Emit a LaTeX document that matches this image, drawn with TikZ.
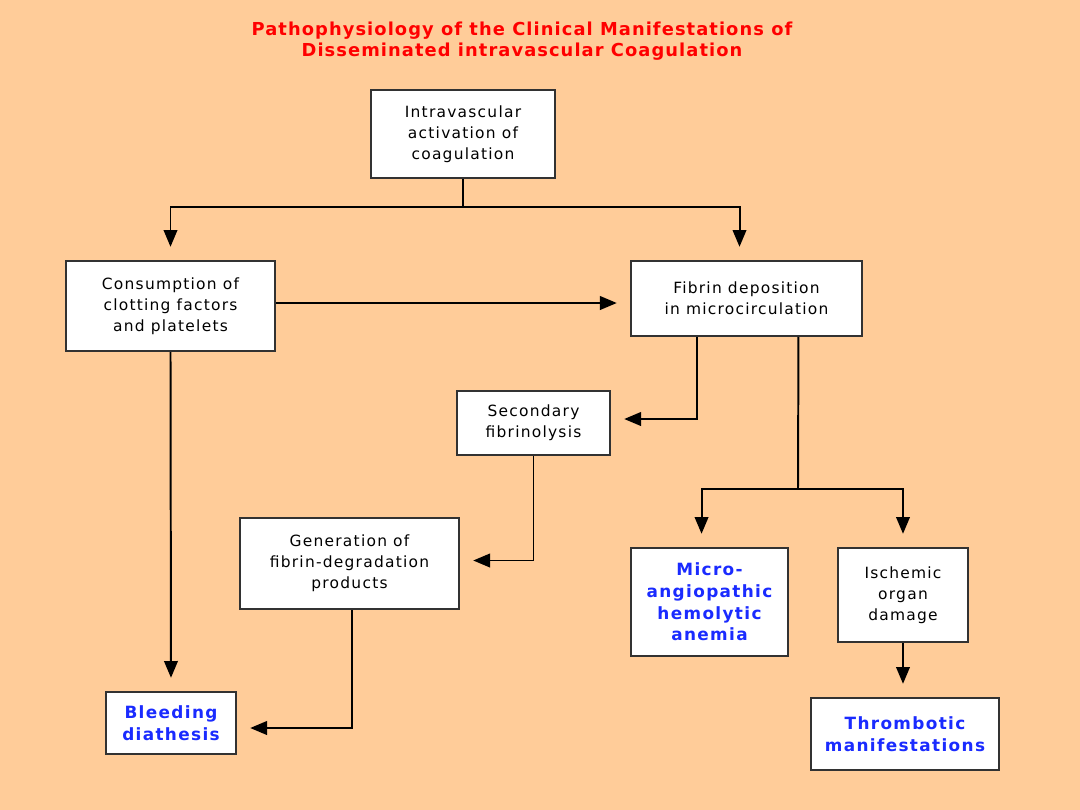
\documentclass[tikz,border=0pt]{standalone}
\usepackage{fontspec}
\setmainfont{DejaVu Sans}
\newfontfamily\boxfont{DejaVu Sans}[LetterSpace=8]
\newfontfamily\titlefont{DejaVu Sans}[LetterSpace=6]
\usetikzlibrary{arrows.meta,calc}
\definecolor{peachbg}{HTML}{FFCC99}
\definecolor{titlered}{HTML}{FF0000}
\definecolor{outblue}{HTML}{1A2BFF}
\definecolor{edgegray}{RGB}{50,50,50}
\tikzset{
  box/.style={rectangle, draw=edgegray, fill=white, line width=1.4pt, inner sep=0pt,
              align=center, font=\boxfont\fontsize{11}{15}\selectfont},
  outbox/.style={box, text=outblue, font=\boxfont\bfseries\fontsize{12}{15.5}\selectfont},
  arr/.style={-{Triangle[length=0.42cm, width=0.34cm]}, line width=1.4pt, draw=black,
              shorten >=0.33cm},
  link/.style={line width=1.4pt, draw=black},
}

\begin{document}
\begin{tikzpicture}[x=0.025cm, y=-0.025cm]
\fill[peachbg] (0,0) rectangle (1080,810);
\useasboundingbox (0,0) rectangle (1080,810);
% title
\node[font=\titlefont\bfseries\fontsize{12.7}{15}\selectfont, text=titlered, align=center] (title) at (522,41) {Pathophysiology of the Clinical Manifestations of\\Disseminated intravascular Coagulation};
% boxes
\node[box, minimum width=4.6cm, minimum height=2.2cm] (nA) at (463,134) {Intravascular\\activation of\\coagulation};
\node[box, minimum width=5.225cm, minimum height=2.25cm] (nB) at (170.5,306) {Consumption of\\clotting factors\\and platelets};
\node[box, minimum width=5.775cm, minimum height=1.875cm] (nC) at (746.5,298.5) {Fibrin deposition\\in microcirculation};
\node[box, minimum width=3.825cm, minimum height=1.6cm] (nD) at (533.5,423) {Secondary\\fibrinolysis};
\node[box, minimum width=5.475cm, minimum height=2.275cm] (nE) at (349.5,563.5) {Generation of\\fibrin-degradation\\products};
\node[outbox, minimum width=3.925cm, minimum height=2.7cm] (nF) at (709.5,602) {Micro-\\angiopathic\\hemolytic\\anemia};
\node[box, minimum width=3.25cm, minimum height=2.35cm] (nG) at (903,595) {Ischemic\\organ\\damage};
\node[outbox, minimum width=3.25cm, minimum height=1.55cm] (nH) at (171,723) {Bleeding\\diathesis};
\node[outbox, minimum width=4.7cm, minimum height=1.8cm] (nI) at (905,734) {Thrombotic\\manifestations};
% connectors
\coordinate (jA) at (461,207);
\draw[link] (nA.south) -- (nA.south |- jA);
\draw[arr] (nA.south |- jA) -| (nB.north);
\draw[arr] (nA.south |- jA) -| ($(nC.north west)!0.47!(nC.north east)$);
\draw[arr] ($(nB.east)+(0,-3)$) -- ($(nB.east -| nC.west)+(0,-3)$);
\draw[arr] (nB.south) -- (nH.north);
\draw[arr] ($(nC.south west)!0.286!(nC.south east)$) |- ($(nD.east)+(0,-4)$);
\coordinate (jC) at (798,489);
\draw[link] ($(nC.south west)!0.723!(nC.south east)$) -- (jC);
\draw[arr] (jC) -| ($(nF.north west)!0.45!(nF.north east)$);
\draw[arr] (jC) -| (nG.north);
\draw[arr] (nD.south) |- ($(nE.east)+(0,-3)$);
\draw[arr] ($(nE.south)+(2.5,0)$) |- ($(nH.east)+(0,5)$);
\draw[arr] (nG.south) -- (nG.south |- nI.north);
\end{tikzpicture}
\end{document}
